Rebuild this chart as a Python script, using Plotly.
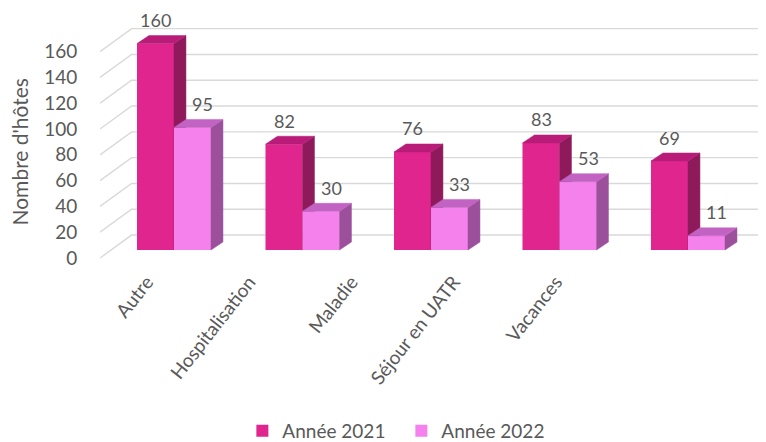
import plotly.graph_objects as go

categories = ["Autre", "Hospitalisation", "Maladie", "Séjour en UATR", "Vacances"]
values_2021 = [160, 82, 76, 83, 69]
values_2022 = [95, 30, 33, 53, 11]
series_names = ["Année 2021", "Année 2022"]
y_ticks = [0, 20, 40, 60, 80, 100, 120, 140, 160]
y_title = "Nombre d'hôtes"

# styling / pseudo-3D geometry (data units)
FONT = "Lato"
TXT = "#595959"
GRID = "#D9D9D9"
BAR_W = 0.288
DX = 0.093          # depth, x direction
DY = 6.2            # depth, y direction
LABEL_DY = -6.2     # front edge of floor relative to bar base
WALL_DY = 11.6      # back wall relative to bar base
WALL_X = -0.33
X_RANGE = [-0.5759, 4.607]
Y_RANGE = [-148.8, 187.6]
LBL_RANGE = [-0.458, 6.055]

front = ["#E0268E", "#F481EC"]
top_c = ["#B81C78", "#C262C2"]
side_c = ["#8E1A5C", "#9C509C"]

idx = list(range(len(categories)))
fig = go.Figure()

# gridlines: diagonal from label position to back wall, then horizontal
gx, gy = [], []
for v in y_ticks:
    gx += [X_RANGE[0], WALL_X, X_RANGE[1], None]
    gy += [v + LABEL_DY, v + WALL_DY, v + WALL_DY, None]
fig.add_trace(go.Scatter(x=gx, y=gy, mode="lines", line=dict(color=GRID, width=1.4),
                         hoverinfo="skip", showlegend=False, xaxis="x", yaxis="y"))

annotations = []
for s, (vals, off, xa, ya, xshift) in enumerate([
        (values_2021, -BAR_W, "x2", "y2", 0),
        (values_2022, 0.0, "x4", "y4", 10)]):
    fig.add_trace(go.Bar(x=idx, y=vals, width=BAR_W, offset=off, name=series_names[s],
                         marker=dict(color=front[s], line=dict(width=0)),
                         hoverinfo="skip", xaxis=xa, yaxis=ya))
    sx, sy, tx, ty = [], [], [], []
    for i, v in zip(idx, vals):
        x0 = i + off
        x1 = x0 + BAR_W
        sx += [x1, x1 + DX, x1 + DX, x1, x1, None]
        sy += [0, DY, v + DY, v, 0, None]
        tx += [x0, x0 + DX, x1 + DX, x1, x0, None]
        ty += [v, v + DY, v + DY, v, v, None]
        annotations.append(dict(x=x0 + BAR_W / 2, y=v, xref=xa, yref=ya, text=str(v),
                                showarrow=False, yanchor="bottom", yshift=10.5, xshift=xshift,
                                font=dict(family=FONT, size=18, color=TXT)))
    fig.add_trace(go.Scatter(x=sx, y=sy, mode="lines", fill="toself", fillcolor=side_c[s],
                             line=dict(color=side_c[s], width=0.5), hoverinfo="skip",
                             showlegend=False, xaxis=xa, yaxis=ya))
    fig.add_trace(go.Scatter(x=tx, y=ty, mode="lines", fill="toself", fillcolor=top_c[s],
                             line=dict(color=top_c[s], width=0.5), hoverinfo="skip",
                             showlegend=False, xaxis=xa, yaxis=ya))

# invisible trace to carry the category label axis
fig.add_trace(go.Scatter(x=idx, y=[0] * len(idx), mode="markers", marker=dict(opacity=0),
                         hoverinfo="skip", showlegend=False, xaxis="x3", yaxis="y"))

# y-axis title placed beside the tick labels
annotations.append(dict(text=y_title, xref="paper", yref="paper", x=-0.121, y=0.668,
                        xanchor="center", yanchor="middle", textangle=-90, showarrow=False,
                        font=dict(family=FONT, size=21, color=TXT)))

hidden_x = dict(range=X_RANGE, visible=False, fixedrange=True, automargin=False)
hidden_y = dict(range=Y_RANGE, visible=False, fixedrange=True, automargin=False)
fig.update_layout(
    width=758, height=434,
    margin=dict(l=92, r=0, t=0, b=0, autoexpand=False),
    paper_bgcolor="white", plot_bgcolor="rgba(0,0,0,0)",
    barmode="overlay",
    font=dict(family=FONT, color=TXT),
    xaxis=dict(hidden_x),
    yaxis=dict(range=Y_RANGE, showgrid=False, zeroline=False, showline=False, automargin=False,
               tickvals=[v + LABEL_DY for v in y_ticks], ticktext=[str(v) for v in y_ticks],
               ticks="outside", ticklen=18, tickcolor="rgba(0,0,0,0)",
               tickfont=dict(family=FONT, size=19, color=TXT),
               fixedrange=True),
    xaxis2=dict(hidden_x, overlaying="x", anchor="y2"),
    yaxis2=dict(hidden_y, overlaying="y", anchor="x2"),
    xaxis4=dict(hidden_x, overlaying="x", anchor="y4"),
    yaxis4=dict(hidden_y, overlaying="y", anchor="x4"),
    xaxis3=dict(range=LBL_RANGE, overlaying="x", anchor="free", position=0.405, automargin=False,
                showgrid=False, zeroline=False, showline=False, ticks="",
                tickvals=idx, ticktext=categories, tickangle=-52,
                tickfont=dict(family=FONT, size=19, color=TXT), fixedrange=True),
    legend=dict(orientation="h", x=0.4525, xanchor="center", y=0.0253, yanchor="middle",
                font=dict(family=FONT, size=19, color=TXT), itemwidth=30,
                entrywidth=114, entrywidthmode="pixels",
                bgcolor="rgba(0,0,0,0)"),
    annotations=annotations,
    showlegend=True,
)

fig.write_html("out.html")
